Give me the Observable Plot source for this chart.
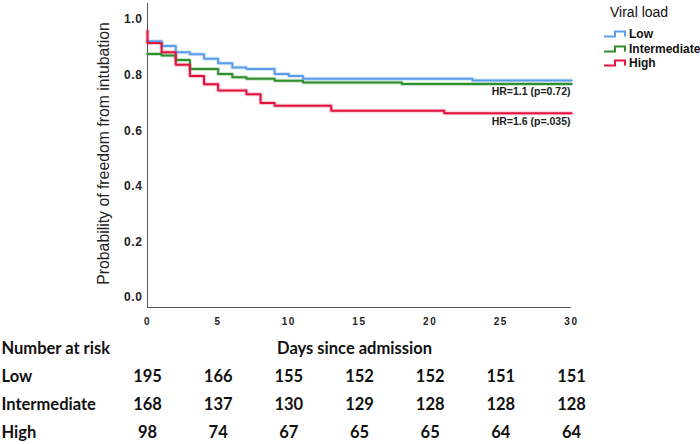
<!DOCTYPE html>
<html>
<head>
<meta charset="utf-8">
<script src="https://cdn.jsdelivr.net/npm/d3@7"></script>
<script src="https://cdn.jsdelivr.net/npm/@observablehq/plot@0.6"></script>
<style>
  html, body { margin: 0; padding: 0; background: #fff; }
  #wrap { position: relative; width: 700px; height: 444px; overflow: hidden; }
  #wrap svg { display: block; background: transparent; }
  g[aria-label="x-axis tick label"] text { letter-spacing: 1.6px; }
  g[aria-label="y-axis tick label"] text { letter-spacing: 0.6px; }
  #legend { position: absolute; left: 603px; top: 0px; font-family: "Liberation Sans", Arial, sans-serif; color: #111; }
  #legend .title { font-size: 14px; position: absolute; left: 7px; top: 4px; white-space: nowrap; }
  #legend .item { position: absolute; left: 0; white-space: nowrap; font-size: 12px; font-weight: bold; display: flex; align-items: center; }
  #legend .item svg { margin-right: 2px; }
</style>
</head>
<body>
<div id="wrap"></div>
<script>
// ---- data ----
const groups = ["Low", "Intermediate", "High"];
const colors = ["#5b9de9", "#2f8f2f", "#e2143f"];
const xTicks = [0, 5, 10, 15, 20, 25, 30];
const yTicks = [0, 0.2, 0.4, 0.6, 0.8, 1.0];

// Kaplan-Meier steps [day, survival]
const survLow = [[0,0.922],[1,0.905],[2,0.883],[3,0.875],[4,0.859],[5,0.843],[6,0.828],[7,0.822],[9,0.804],[10,0.797],[11,0.787],[23,0.781],[30,0.781]];
const survIntermediate = [[0,0.876],[1,0.871],[2,0.855],[3,0.822],[5,0.804],[6,0.793],[7,0.787],[9,0.780],[11,0.774],[18,0.768],[30,0.768]];
const survHigh = [[0,0.96],[0,0.916],[1,0.883],[2,0.838],[3,0.797],[4,0.767],[5,0.745],[7,0.731],[8,0.700],[9,0.690],[13,0.672],[21,0.663],[30,0.663]];

const hrIntermediate = "HR=1.1 (p=0.72)";
const hrHigh = "HR=1.6 (p=.035)";

const riskDays = [0, 5, 10, 15, 20, 25, 30];
const riskLow = [195, 166, 155, 152, 152, 151, 151];
const riskIntermediate = [168, 137, 130, 129, 128, 128, 128];
const riskHigh = [98, 74, 67, 65, 65, 64, 64];
const riskHeader = "Number at risk";
const xLabel = "Days since admission";
const yLabel = "Probability of freedom from intubation";
const legendTitle = "Viral load";

// ---- build tables ----
const survSeries = [survLow, survIntermediate, survHigh];
const surv = survSeries.flatMap((s, i) => s.map(([day, value]) => ({group: groups[i], day, value})));
const lastOf = s => ({day: s[s.length - 1][0], value: s[s.length - 1][1]});
const hrLabels = [
  {...lastOf(survIntermediate), text: hrIntermediate},
  {...lastOf(survHigh), text: hrHigh}
];
const riskSeries = [riskLow, riskIntermediate, riskHigh];
const risk = riskSeries.flatMap((r, i) => r.map((n, j) => ({group: groups[i], day: riskDays[j], n})));
const rowNames = [riskHeader, ...groups];

const yMin = -0.036, yMax = 1.058;
const font = '"Liberation Sans", Arial, sans-serif';

const main = Plot.plot({
  width: 700, height: 330,
  marginLeft: 147, marginRight: 129, marginTop: 3, marginBottom: 23,
  style: {fontFamily: font, color: "#222", background: "transparent"},
  x: {domain: [0, 30]},
  y: {domain: [yMin, yMax]},
  color: {domain: groups, range: colors},
  marks: [
    Plot.axisX({ticks: xTicks, tickSize: 0, tickPadding: 10, label: null, fontSize: 10, fontWeight: "bold", fill: "#222"}),
    Plot.axisY({ticks: yTicks, tickSize: 0, tickPadding: 5, label: null, tickFormat: d3.format(".1f"), fontSize: 12, fontWeight: "bold", fill: "#222"}),
    Plot.ruleX([0], {stroke: "#555", strokeWidth: 1}),
    Plot.ruleY([yMin], {stroke: "#555", strokeWidth: 1}),
    Plot.line(surv, {x: "day", y: "value", z: "group", stroke: "group", curve: "step-after", strokeWidth: 4, strokeOpacity: 0.25}),
    Plot.line(surv, {x: "day", y: "value", z: "group", stroke: "group", curve: "step-after", strokeWidth: 2}),
    Plot.text(hrLabels, {x: "day", y: "value", text: "text", textAnchor: "end", dx: -1, dy: 8, lineAnchor: "middle", fontSize: 10.5, fontWeight: "bold", fill: "#222"}),
    Plot.text([yLabel], {frameAnchor: "left", textAnchor: "middle", rotate: -90, dx: -44, dy: -2, fontSize: 15.8, fill: "#222"})
  ]
});

const table = Plot.plot({
  width: 700, height: 114,
  marginLeft: 147, marginRight: 129, marginTop: 0, marginBottom: 0,
  style: {fontFamily: "Lato, sans-serif", background: "transparent"},
  x: {domain: [0, 30], axis: null},
  y: {type: "point", domain: rowNames, range: [17, 103], padding: 0, axis: null},
  marks: [
    Plot.text(risk, {x: "day", y: "group", text: d => String(d.n), fontSize: 16.5, fontWeight: "bold", fill: "#111"}),
    Plot.text(rowNames, {y: d => d, text: d => d, frameAnchor: "left", textAnchor: "start", dx: -146, fontSize: 16.5, fontWeight: "bold", fill: "#111"}),
    Plot.text([xLabel], {y: () => riskHeader, text: d => d, frameAnchor: "middle", dx: -5, fontSize: 16.5, fontWeight: "bold", fill: "#111"})
  ]
});

const wrap = document.getElementById("wrap");
wrap.appendChild(main);
wrap.appendChild(table);

// legend
const legend = document.createElement("div");
legend.id = "legend";
const t = document.createElement("div");
t.className = "title";
t.textContent = legendTitle;
legend.appendChild(t);
groups.forEach((g, i) => {
  const it = document.createElement("div");
  it.className = "item";
  it.style.top = (27 + i * 14.5) + "px";
  it.innerHTML = `<svg width="24" height="10"><path d="M1,7.5H12V2.5H22V7.5" fill="none" stroke="${colors[i]}" stroke-width="2"/></svg><span>${g}</span>`;
  legend.appendChild(it);
});
wrap.appendChild(legend);
</script>
</body>
</html>
